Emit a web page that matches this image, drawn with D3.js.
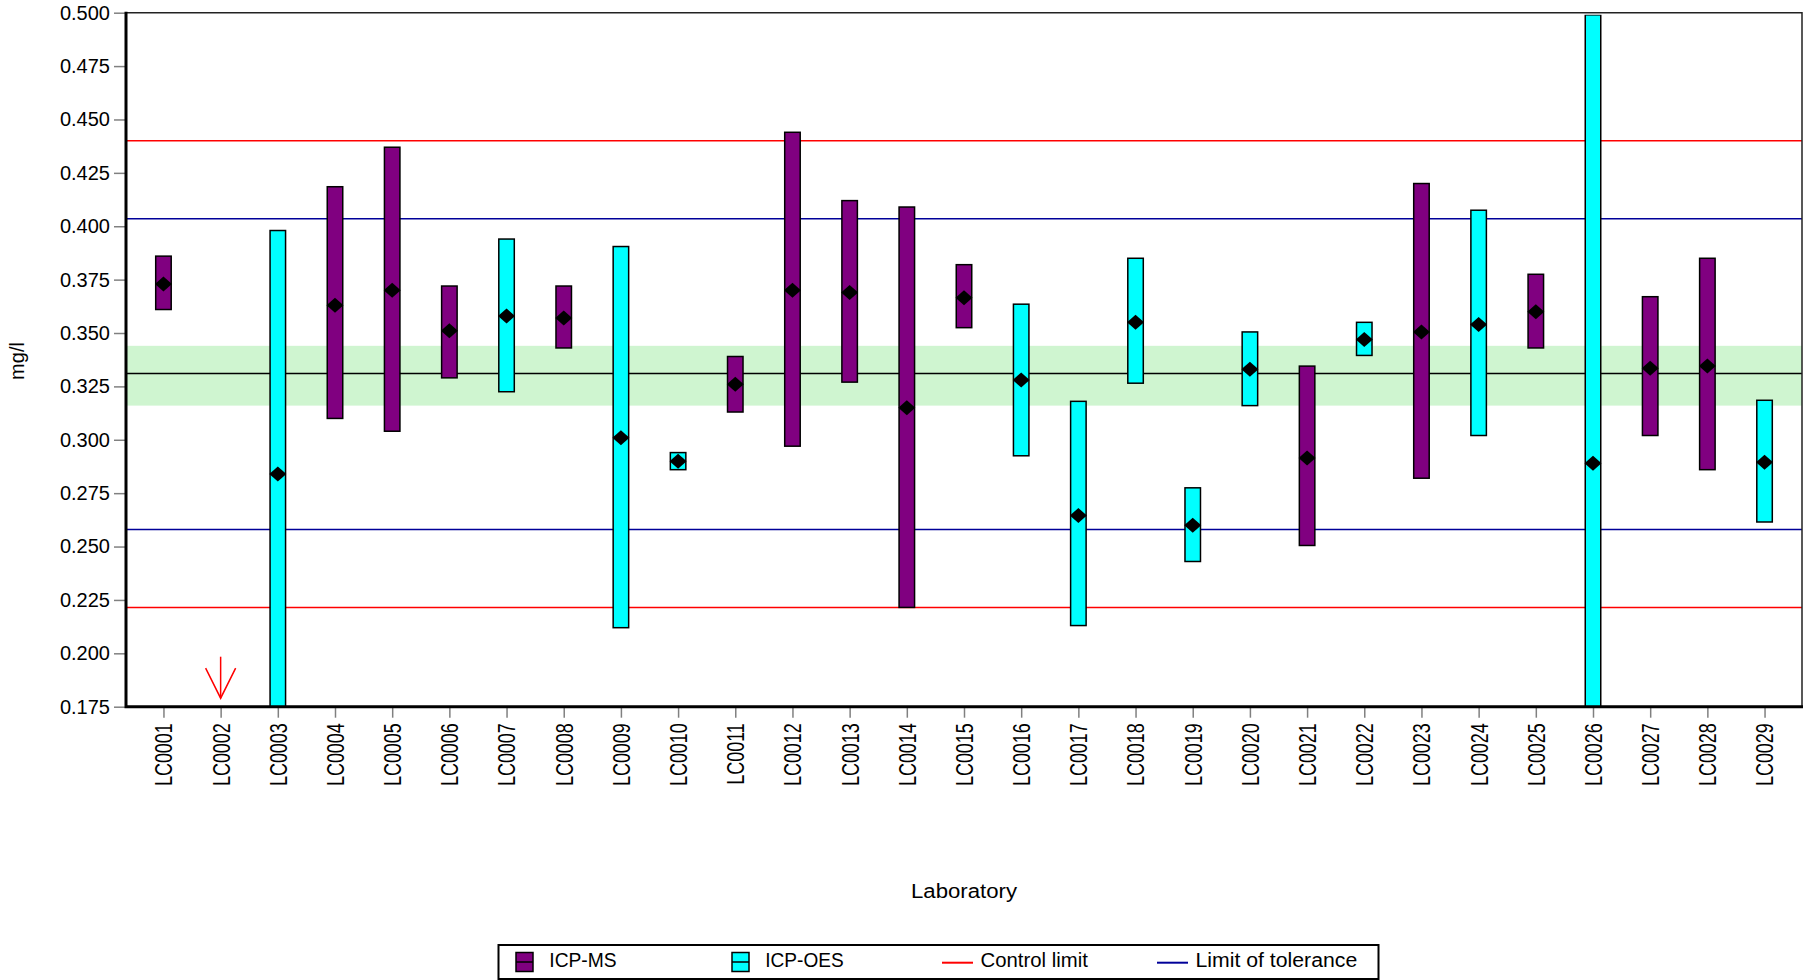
<!DOCTYPE html>
<html>
<head>
<meta charset="utf-8">
<script src="https://cdn.jsdelivr.net/npm/d3@7/dist/d3.min.js"></script>
<style>
  html, body { margin: 0; padding: 0; background: #fff; }
  svg { display: block; font-family: "Liberation Sans", Arial, sans-serif; }
</style>
</head>
<body>
<svg id="chart" width="1807" height="980"></svg>
<script>
// Laboratories taking part in the round
const labs = ["LC0001","LC0002","LC0003","LC0004","LC0005","LC0006","LC0007","LC0008","LC0009","LC0010",
              "LC0011","LC0012","LC0013","LC0014","LC0015","LC0016","LC0017","LC0018","LC0019","LC0020",
              "LC0021","LC0022","LC0023","LC0024","LC0025","LC0026","LC0027","LC0028","LC0029"];
// Measurement method per laboratory (null = result below the displayed range)
const methods = ["ICP-MS",null,"ICP-OES","ICP-MS","ICP-MS","ICP-MS","ICP-OES","ICP-MS","ICP-OES","ICP-OES",
                 "ICP-MS","ICP-MS","ICP-MS","ICP-MS","ICP-MS","ICP-OES","ICP-OES","ICP-OES","ICP-OES","ICP-OES",
                 "ICP-MS","ICP-OES","ICP-MS","ICP-OES","ICP-MS","ICP-OES","ICP-MS","ICP-MS","ICP-OES"];
// Reported mean and uncertainty interval, mg/l
const means = [0.373,null,0.284,0.363,0.370,0.351,0.358,0.357,0.301,0.290,
               0.326,0.370,0.369,0.315,0.3665,0.328,0.2645,0.355,0.260,0.333,
               0.2915,0.347,0.3505,0.354,0.360,0.289,0.3335,0.3345,0.2895];
const lowers = [0.361,null,0.169,0.310,0.304,0.329,0.3225,0.343,0.212,0.286,
                0.313,0.297,0.327,0.2215,0.3525,0.2925,0.213,0.3265,0.243,0.316,
                0.2505,0.3395,0.282,0.302,0.343,0.079,0.302,0.286,0.2615];
const uppers = [0.386,null,0.398,0.4185,0.437,0.372,0.394,0.372,0.3905,0.294,
                0.339,0.444,0.412,0.409,0.382,0.3635,0.318,0.385,0.2775,0.3505,
                0.3345,0.355,0.420,0.4075,0.3775,0.499,0.367,0.385,0.3185];
// Assigned value, its uncertainty band and the limits
const assignedValue = 0.331;
const assignedBand = [0.316, 0.344];
const controlLimits = [0.2215, 0.440];
const toleranceLimits = [0.258, 0.4035];
const yTicks = [0.175,0.200,0.225,0.250,0.275,0.300,0.325,0.350,0.375,0.400,0.425,0.450,0.475,0.500];

const methodColor = { "ICP-MS": "#800080", "ICP-OES": "#00FFFF" };
const legendItems = [
  { label: "ICP-MS", kind: "box", color: methodColor["ICP-MS"] },
  { label: "ICP-OES", kind: "box", color: methodColor["ICP-OES"] },
  { label: "Control limit", kind: "line", color: "#FF0000" },
  { label: "Limit of tolerance", kind: "line", color: "#000099" }
];

const svg = d3.select("#chart");
const L = 126, R = 1802, T = 12.7, B = 706.7;

const x = d3.scalePoint().domain(labs).range([L, R]).padding(0.655);
const y = d3.scaleLinear().domain([0.175, 0.5]).range([B, T]);

const data = labs.map((lab, i) => ({
  lab, method: methods[i], mean: means[i], lo: lowers[i], hi: uppers[i]
}));

// clip region for everything inside the plot
svg.append("defs").append("clipPath").attr("id", "plotClip")
  .append("rect").attr("x", L).attr("y", T + 2).attr("width", R - L).attr("height", B - T - 2);

const plot = svg.append("g").attr("clip-path", "url(#plotClip)");

// assigned value uncertainty band
plot.append("rect")
  .attr("x", L).attr("width", R - L)
  .attr("y", y(assignedBand[1])).attr("height", y(assignedBand[0]) - y(assignedBand[1]))
  .attr("fill", "#CFF5D0");

// horizontal reference lines
const hline = (v, color) => plot.append("line")
  .attr("x1", L).attr("x2", R).attr("y1", y(v)).attr("y2", y(v))
  .attr("stroke", color).attr("stroke-width", 1.5);
controlLimits.forEach(v => hline(v, "#FF0000"));
toleranceLimits.forEach(v => hline(v, "#000099"));
hline(assignedValue, "#000000");

// result bars
const barW = 15.5;
const withData = data.filter(d => d.method);
plot.selectAll("rect.bar").data(withData).join("rect")
  .attr("class", "bar")
  .attr("x", d => x(d.lab) - barW / 2)
  .attr("width", barW)
  .attr("y", d => y(d.hi))
  .attr("height", d => y(d.lo) - y(d.hi))
  .attr("fill", d => methodColor[d.method])
  .attr("stroke", "#000").attr("stroke-width", 1.5);

// mean marks
plot.selectAll("line.mean").data(withData).join("line")
  .attr("class", "mean")
  .attr("x1", d => x(d.lab) - barW / 2).attr("x2", d => x(d.lab) + barW / 2)
  .attr("y1", d => y(d.mean)).attr("y2", d => y(d.mean))
  .attr("stroke", "#000").attr("stroke-width", 1.5);
plot.selectAll("path.diamond").data(withData).join("path")
  .attr("class", "diamond")
  .attr("transform", d => `translate(${x(d.lab)},${y(d.mean)})`)
  .attr("d", "M-8.5,0L0,-7.5L8.5,0L0,7.5Z")
  .attr("fill", "#000");

// arrow for results below the displayed range
const below = data.filter(d => !d.method);
const arrows = svg.selectAll("g.arrow").data(below).join("g")
  .attr("class", "arrow")
  .attr("transform", d => `translate(${x(d.lab)},${y(0.175) - 8.5})`)
  .attr("fill", "none").attr("stroke", "#FF0000").attr("stroke-width", 1.5);
arrows.append("line").attr("x1", 0).attr("x2", 0).attr("y1", -41.5).attr("y2", 0);
arrows.append("path").attr("d", "M-15,-30L0,0L15,-30");

// frame (top and right)
svg.append("path")
  .attr("d", `M${L},${T}H${R}V${B}`)
  .attr("fill", "none").attr("stroke", "#222").attr("stroke-width", 1.5);

// y axis
const yAxis = svg.append("g").attr("transform", `translate(${L},0)`)
  .call(d3.axisLeft(y).tickValues(yTicks).tickFormat(d3.format(".3f")).tickSize(12).tickPadding(4));
yAxis.select(".domain").remove();
yAxis.selectAll(".tick line").attr("stroke", "#808080").attr("stroke-width", 1.5);
yAxis.selectAll(".tick text")
  .attr("font-size", "20px").attr("fill", "#000")
  .attr("font-family", "'Liberation Sans', Arial, sans-serif");

// x axis
const xAxis = svg.append("g").attr("transform", `translate(0,${B})`)
  .call(d3.axisBottom(x).tickSize(11).tickPadding(0));
xAxis.select(".domain").remove();
xAxis.selectAll(".tick line").attr("stroke", "#808080").attr("stroke-width", 1.5);
xAxis.selectAll(".tick text")
  .attr("font-size", "18.5px").attr("fill", "#000")
  .attr("font-family", "'Liberation Sans', Arial, sans-serif")
  .attr("text-anchor", "end")
  .attr("dy", null)
  .attr("dominant-baseline", "central")
  .attr("transform", "translate(0,16.5) rotate(-90) scale(0.97,1.25)")
  .attr("x", 0).attr("y", 0);

// thick axis lines
svg.append("path")
  .attr("d", `M${L},${T - 1}V${B}H${R + 1}`)
  .attr("fill", "none").attr("stroke", "#000").attr("stroke-width", 3);

// axis titles
svg.append("text")
  .attr("transform", `translate(24,361) rotate(-90)`)
  .attr("text-anchor", "middle")
  .attr("font-size", "20px")
  .text("mg/l");
svg.append("text")
  .attr("x", (L + R) / 2).attr("y", 898)
  .attr("text-anchor", "middle")
  .attr("font-size", "20px")
  .attr("textLength", 106).attr("lengthAdjust", "spacingAndGlyphs")
  .text("Laboratory");

// legend
const lg = svg.append("g");
lg.append("rect").attr("x", 498.5).attr("y", 945).attr("width", 880).attr("height", 34)
  .attr("fill", "#fff").attr("stroke", "#000").attr("stroke-width", 2);
const legendX = [516, 732, 942, 1157];
const legendTextW = [67.3, 78.3, 107.3, 161.7];
const items = lg.selectAll("g.item").data(legendItems).join("g")
  .attr("class", "item")
  .attr("transform", (d, i) => `translate(${legendX[i]},962)`);
items.each(function(d, i) {
  const g = d3.select(this);
  if (d.kind === "box") {
    g.append("rect").attr("x", 0).attr("y", -9.5).attr("width", 17).attr("height", 19)
      .attr("fill", d.color).attr("stroke", "#000").attr("stroke-width", 1.5);
    g.append("line").attr("x1", 0).attr("x2", 17).attr("y1", 0).attr("y2", 0)
      .attr("stroke", "#000").attr("stroke-width", 1.5);
  } else {
    g.append("line").attr("x1", 0).attr("x2", 31).attr("y1", 0.7).attr("y2", 0.7)
      .attr("stroke", d.color).attr("stroke-width", 2);
  }
  g.append("text")
    .attr("x", d.kind === "box" ? 33.3 : 38.5).attr("y", -1.7)
    .attr("dominant-baseline", "central")
    .attr("font-size", "19.5px")
    .attr("textLength", legendTextW[i]).attr("lengthAdjust", "spacingAndGlyphs")
    .text(d.label);
});
</script>
</body>
</html>
